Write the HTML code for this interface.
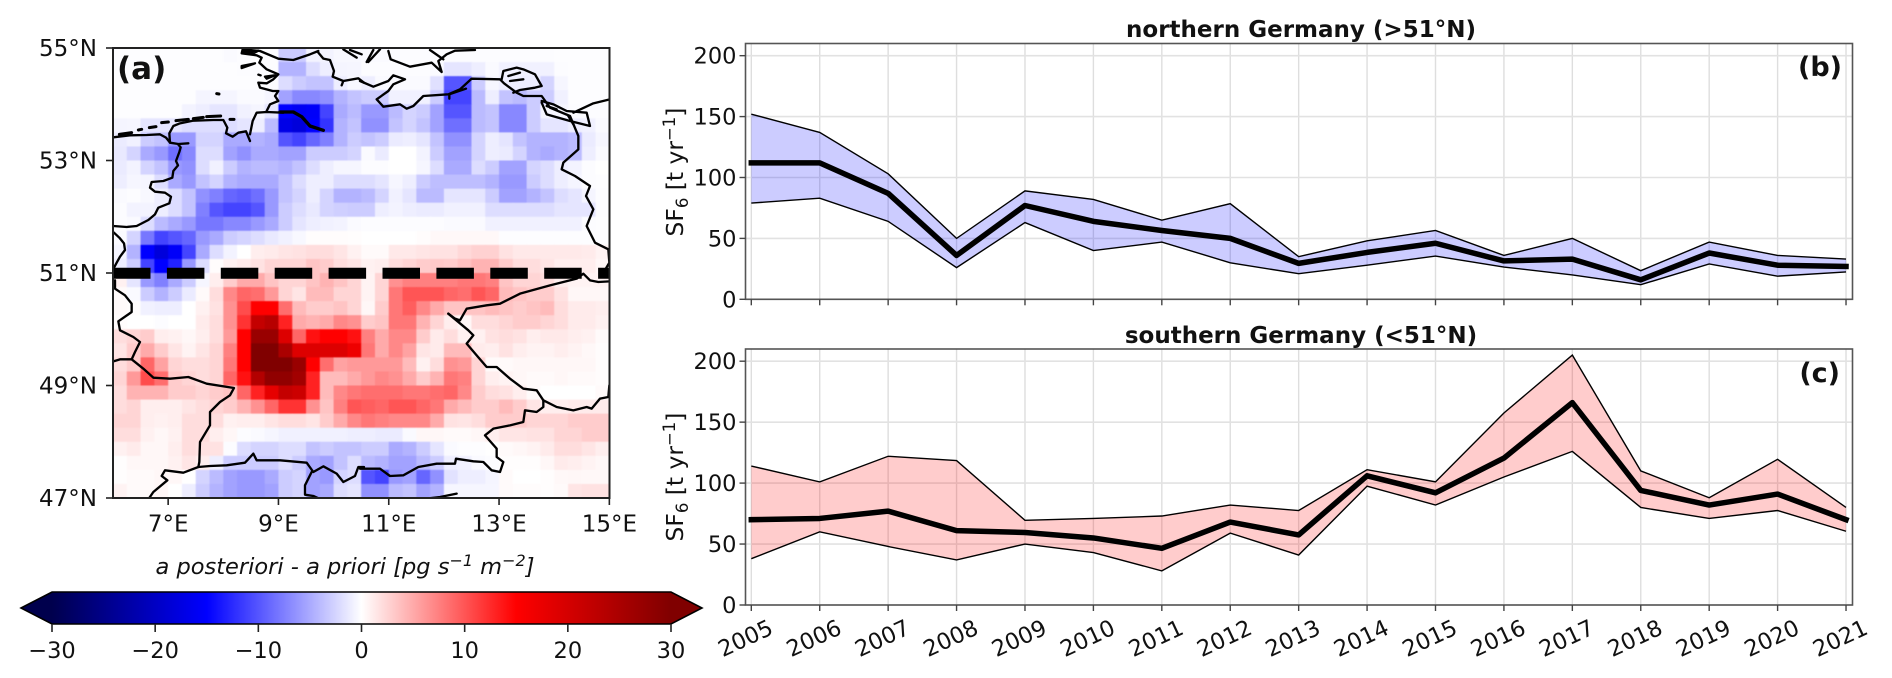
<!DOCTYPE html>
<html lang="en">
<head>
<meta charset="utf-8">
<title>SF6 emission changes over Germany</title>
<style>
html,body{margin:0;padding:0;background:#fff;}
svg{display:block;font-family:"DejaVu Sans","Liberation Sans",sans-serif;}
text{fill:#111;}
</style>
</head>
<body>
<svg id="figure" xmlns="http://www.w3.org/2000/svg" width="1892" height="678" viewBox="0 0 1892 678">
  <defs>
    <clipPath id="map-clip"><rect x="113" y="48" width="496.5" height="450"/></clipPath>
    <linearGradient id="seismic-gradient" x1="0" x2="1" y1="0" y2="0">
      <stop offset="0" stop-color="#00004d"/>
      <stop offset="0.25" stop-color="#0000ff"/>
      <stop offset="0.5" stop-color="#ffffff"/>
      <stop offset="0.75" stop-color="#ff0000"/>
      <stop offset="1" stop-color="#800000"/>
    </linearGradient>
  </defs>

  <g id="map-panel">
    <g clip-path="url(#map-clip)">
      <g id="heatmap" style="filter:blur(0.6px)"></g>
      <g fill="none" stroke="#000" stroke-width="7" stroke-linejoin="round" stroke-linecap="round">
        <g transform="translate(110,46) scale(0.33333)">
          <path d="M10,274 L60,268 L110,267 L150,265 L168,275 L180,290 L205,294 L235,292"/>
          <path d="M205,296 L212,304 L208,318 L198,345 L204,358 L190,375 L187,395 L160,405 L125,408 L120,425 L135,437 L165,440 L183,452 L178,472 L145,485 L135,505 L115,522 L80,540 L50,543 L10,540 M12,560 L28,575 L42,592 L45,612 L30,632 L20,650 L12,665"/>
          <path d="M180,290 L178,262 L190,240 L210,232 L250,224 L310,222 L340,222 L352,245 L348,262 L368,272 L385,260 L408,256 L420,285 M420,265 L428,225 L440,200 L470,198 L520,200"/>
          <path stroke-width="10" d="M510,198 L550,198 L575,212 L600,240 L640,253"/>
          <path stroke-width="9" d="M28,265 L65,260 M85,252 L95,250 M118,245 L138,242 M155,230 L175,228 M198,224 L235,220 M250,218 L280,214 M290,212 L332,210 M360,220 L372,220 M320,143 L327,144"/>
          <path d="M470,195 L480,175 L505,165 L495,150 L505,135 L488,135 L450,125 L445,110 L470,112 L490,100 L505,85 L470,70 L448,50 L455,35 L440,28 L395,22 L398,10 L450,15 L505,38 L550,42 L600,25 L625,15"/>
          <path d="M395,60 L435,52 L395,66 Z M445,86 L452,88 M465,92 L495,88 L470,98 Z M400,16 L445,14 L430,22 Z"/>
          <path d="M625,20 L640,38 L660,42 L672,75 L668,92 L700,105 L695,118 M700,105 L745,97 L762,110 M700,10 L740,35 M720,12 L755,25"/>
        </g>
        <g transform="translate(360,46) scale(0.33333)">
          <path d="M0,105 L40,122 L85,105 L100,88 L135,100 L100,115 L85,135 L50,160 L70,182 L120,175 L140,188 L160,180 L190,150 L265,145 L300,130 L335,98 L420,100 L432,112 L470,140 L490,150 L545,150 L570,185 L630,210 L655,270 L655,310 L610,350 L605,370 L645,390 L690,420 L678,450 L700,490 L680,540 L705,590 L745,610 L748,650 L735,672"/>
          <path d="M425,100 L430,75 L470,65 L490,70 L525,85 L545,120 L525,125 L480,132 L460,140 M445,90 L480,80 M450,105 L490,100"/>
          <path d="M545,165 L580,175 L620,195 L680,200 L690,240 L630,225 L560,205 L545,170 M640,200 L700,172 L750,160 M625,210 L640,235 M560,180 L590,190"/>
          <path d="M85,15 L92,40 L150,62 L215,50 L245,78 L235,45 L260,25 L285,14 L345,12 M20,48 L40,12 M25,48 L60,10 M210,12 L250,40 M268,158 L268,145 L318,128"/>
        </g>
        <g transform="translate(110,272) scale(0.33333)">
          <path d="M15,25 L15,50 L45,70 L65,95 L65,120 L25,148 L30,175 L70,195 L90,210 L75,240 L65,262 L30,262 L10,268"/>
          <path d="M65,262 L100,290 L130,317 L180,320 L235,315 L290,335 L372,348 L360,370 L330,390 L300,420 L300,460 L270,510 L268,570 L265,585 L300,582 L350,580 L405,572 L430,545 L440,565 L510,565 L590,572 L610,600 L640,583 L680,605 L700,630 L735,612 L745,585 L762,585"/>
          <path d="M265,585 L220,602 L165,595 L155,612 L172,625 L130,660 L115,682"/>
          <path d="M605,600 L585,640 L585,668 L610,672 L632,682"/>
        </g>
        <g transform="translate(360,272) scale(0.33333)">
          <path d="M0,590 L60,590 L90,612 L130,610 L175,585 L230,575 L285,575 L288,560 L340,568 L370,570 L395,595 L420,600 L430,570 L410,555 L410,530 L375,490 L400,470 L450,460 L490,450 L495,415 L530,420 L550,405 L550,385"/>
          <path d="M265,125 L285,140 L300,145 L320,110 L380,100 L420,95 L480,65 L570,40 L650,20 L670,5 L690,25 L715,30 L750,28"/>
          <path d="M265,125 L325,175 L340,190 L320,215 L350,250 L380,285 L410,285 L450,320 L490,350 L530,355 L550,385 L590,405 L640,415 L680,405 L695,410 L720,380 L745,375 L748,340"/>
          <path d="M180,682 L240,675 L290,665"/>
        </g>
      </g>
      <line x1="113" x2="610" y1="273.3" y2="273.3" stroke="#000" stroke-width="11" stroke-dasharray="37.5 16.4"/>
    </g>
    <rect x="113" y="48" width="496.5" height="450" fill="none" stroke="#222" stroke-width="2"/>
    <g id="map-ticks"></g>
    <text x="117" y="79" font-size="31" font-weight="bold">(a)</text>
  </g>

  <g id="colorbar">
    <text x="345" y="574" text-anchor="middle" font-size="22.5" font-style="italic">a posteriori - a priori [pg s<tspan dy="-8" font-size="16">−1</tspan><tspan dy="8"> m</tspan><tspan dy="-8" font-size="16">−2</tspan><tspan dy="8">]</tspan></text>
    <polygon points="21,608 52,592 52,624" fill="#00004d"/>
    <polygon points="702,608 671,592 671,624" fill="#800000"/>
    <rect x="52" y="592" width="619" height="32" fill="url(#seismic-gradient)"/>
    <polygon points="21,608 52,592 671,592 702,608 671,624 52,624" fill="none" stroke="#000" stroke-width="1.6"/>
    <g id="colorbar-ticks"></g>
  </g>

  <g id="panel-b">
    <text x="1301" y="37" text-anchor="middle" font-size="23" font-weight="bold">northern Germany (&gt;51°N)</text>
    <text transform="translate(683,172) rotate(-90)" text-anchor="middle" font-size="23.4">SF<tspan dy="5" font-size="16.5">6</tspan><tspan dy="-5"> [t yr</tspan><tspan dy="-8" font-size="16.5">−1</tspan><tspan dy="8">]</tspan></text>
    <text x="1842" y="76" text-anchor="end" font-size="27" font-weight="bold">(b)</text>
  </g>

  <g id="panel-c">
    <text x="1301" y="343" text-anchor="middle" font-size="23" font-weight="bold">southern Germany (&lt;51°N)</text>
    <text transform="translate(683,477) rotate(-90)" text-anchor="middle" font-size="23.4">SF<tspan dy="5" font-size="16.5">6</tspan><tspan dy="-5"> [t yr</tspan><tspan dy="-8" font-size="16.5">−1</tspan><tspan dy="8">]</tspan></text>
    <text x="1840" y="382" text-anchor="end" font-size="27" font-weight="bold">(c)</text>
  </g>
</svg>

<script>
// ---- time-series data ----
const years = [2005,2006,2007,2008,2009,2010,2011,2012,2013,2014,2015,2016,2017,2018,2019,2020,2021];
const northMean  = [112,112,87,36,77,64,56.5,50,29.5,38.5,46,31.5,33,16,38,28,27];
const northUpper = [152,137,103,50,89,82,65,78.5,35,48,56.5,36,50,23.5,47,36,33];
const northLower = [79,83,64,26,63,40,47,30,21,28,35.5,26.5,20,12,29,19,22.5];
const southMean  = [70,71,77,61,59.5,55,46.5,68,57.5,106,92,120.5,166,94,82,91,70];
const southUpper = [114,101,122,118.5,69.5,71,73,82,77.5,111,101,157.5,205,110,88,119.5,80];
const southLower = [38,60,48,37,50,43,28,59,41,97.5,82,105,126,80,71,77.5,60.5];
const yTickValues = [0,50,100,150,200];

// ---- map data ----
const mapLonTicks = [7,9,11,13,15];
const mapLatTicks = [47,49,51,53,55];
const colorbarTicks = [-30,-20,-10,0,10,20,30];
// difference in pg s-1 m-2; rows run north (55N) to south (47N), columns west (6E) to east (15E), 0.25 deg cells
const heatmapValues = [
[-.1,-.1,-.1,-.1,-.1,-.1,-.1,-.1,-.3,-.2,-.1,-.2,-3,-3,-.7,-.7,-.4,-.4,-.3,-.3,-.2,-.2,-.2,-.2,-.2,-.2,-.2,-.2,-.2,-.2,-.2,-.2,-.1,-.1,-.1,-.1],
[-.1,-.1,-.1,-.1,-.1,-.1,-.1,-.1,-.1,-.2,-.2,-.2,-4.5,-4.5,-2,-1,-.6,-.5,-.2,-.2,-.2,-.2,-.2,-.3,-1.5,-1.5,-1,-.3,-.8,-.8,-.8,-.8,-.2,-.1,-.1,-.1],
[-.1,-.1,-.1,-.1,-.1,-.1,-.1,-.1,-.1,-.1,-.1,-.2,-2,-3,-3.5,-3.5,-1,-.4,-1,-.3,-.3,-.3,-.3,-1.8,-10,-10,-3,-.5,-1,-1,-1,-2.5,-.5,-.1,-.1,-.1],
[-.1,-.1,-.1,-.1,-.1,-.1,-.6,-.6,-.6,-.3,-.3,-.6,-5.5,-7,-7,-6.5,-4.5,-3.5,-3,-3,-.8,-.8,-.8,-3,-11,-11,-4,-1,-3.5,-4,-3,-3,-.8,-.1,-.1,-.1],
[-.1,-.1,-.1,-.1,-.1,-.7,-1,-1.5,-1.5,-.8,-.6,-1.5,-15,-16,-15.5,-11,-5,-4,-6,-6,-4,-2.5,-3,-5.5,-10,-10,-4,-3.5,-7,-7,-3,-.5,-.5,-.2,-.2,-.2],
[-.6,-.5,-1.5,-1.5,-1.5,-2,-2,-2,-2,-1.5,-1,-4,-17,-18,-15,-12,-4.5,-3.5,-6.5,-6.5,-3.5,-2.5,-3.5,-5.5,-8.5,-8.5,-4,-3.5,-7,-7,-3,-1.5,-1.5,-1,-.8,-.3],
[-1.2,-.8,-3,-3.5,-6,-6,-2.5,-2.5,-5,-5,-4.5,-5,-10,-11,-9,-7.5,-4.5,-3,-3.5,-3,-1.2,-1,-1.5,-3.5,-6.5,-6.5,-2.5,-1,-1.5,-3.5,-4.5,-4.5,-4.5,-4,-1.2,-.5],
[-1.3,-2.5,-5,-6,-8.5,-7,-2,-2,-5.5,-6.5,-5,-5,-5.5,-5.5,-3,-3,-3,-2.5,-.3,-1.2,0,0,-.7,-3,-5.5,-5.5,-2.5,-1,-1.2,-2.5,-4.5,-5,-4.5,-4,-1,-.3],
[-1.2,-.7,-2.5,-3.5,-6,-6.5,-2,-.8,-3,-4.5,-4,-4,-4.5,-3.5,-2,-1,-.5,-.5,-.2,-.2,0,0,-.5,-2,-5,-5,-2,-3,-5.5,-5.5,-2.5,-2,-1,-.7,-.2,0],
[-1,-.5,-.6,-2,-5,-6,-3.5,-2.5,-4.5,-5,-5,-5,-3.5,-2,-1,-1,-2,-2,-2,-1.5,-.5,-1,-3,-3.8,-3.8,-3.8,-3.8,-4.5,-6,-6,-3,-2,-1,-.6,-.2,-.1],
[-.3,-.2,-.4,-1,-2,-3.5,-6.5,-7.5,-9,-9.5,-8.5,-6,-3.5,-2.5,-1,-2.5,-4.5,-4.5,-4,-2.5,-.8,-1.5,-4,-4,-1.5,-1.5,-1.5,-3,-5.5,-5.5,-4.5,-3.5,-2,-1.5,-.6,-.2],
[-.2,-.7,-.7,-1,-2,-3.5,-7.5,-10,-11,-11,-10,-6,-3,-2,-1.3,-2.5,-2.8,-3,-3,-1,-.7,-1,-1.2,-1.2,-.8,-.8,-.8,-2,-2,-2,-2,-2,-1.5,-1.5,-1.5,-.2],
[-.2,-.3,-2,-4,-5,-6,-8,-8,-7,-7,-6,-5,-3,-1.5,-1,-.8,-.7,-.3,-.2,-.2,-.2,-.2,-.2,-.2,-.3,-.3,-.3,-.8,-.8,-.8,-.8,-.8,-.8,-.8,-.2,-.1],
[-.3,-2.5,-8,-11,-10,-9,-6,-5,-3,-2.5,-2,-1.3,-.8,-.4,.1,.2,.2,.1,0,0,0,0,.2,.4,.4,.4,.4,.4,-.1,-.1,-.1,-.1,-.1,-.1,-.1,-.1],
[-.6,-4.5,-15,-18,-15.5,-11,-5,-2,-.7,0,1,1.2,1.5,1.7,2,2,1.5,.8,.3,.3,1.3,1.3,1.5,1.7,1.7,2.3,2.7,2.7,1.7,1.3,1.3,1.3,1.3,1.3,1.2,.7],
[-1,-3,-11,-15,-13,-6,-2,.2,.8,1.2,1.7,2.5,2.5,2.5,3.5,3,2,1.5,.8,1,2,2.5,3,3.2,3,3.7,4.5,4.5,3,2,2,1.5,1,1,1,.5],
[.8,-1.5,-6,-7.5,-5,-3,-.5,1,3,5,5,3.5,2.5,2.5,3.5,4.5,3.5,2.5,.7,2.5,6.5,7.5,7.5,7.5,7.5,8,8,7.5,3.5,2.5,2.5,2,1,.7,.7,.7],
[.3,-.3,-3,-4.5,-3,-1.2,.3,2,7,9,8.5,6,2.5,1.5,4,4,2.5,2.5,.7,2.5,8,10,10,10,9,8.5,10,9,4,3.5,3,3,1.7,.5,.5,.5],
[.3,.1,-.8,-1,-1,0,.8,1.7,6.5,10.5,15,15,8.5,4,3,3,3.5,2.5,.5,3,8,9.5,7,5,3.5,3.5,3.5,4,3.5,3,3.5,4,2,1.2,1.2,1],
[.2,0,0,-.2,0,0,1.2,2,6.5,12,22,23.5,13,5,4.5,5,7,6.5,3,3.5,8,8,4.5,2.5,1,.5,2,2,2.5,3,3,2.5,2,1.2,1.2,.8],
[2,2.5,3,1,.8,.5,1,2,6,15,27,27,19,9,14,15,15,14,7.5,5,7,7,3,1.2,2,.8,.8,1.7,2,1.7,1,1.3,1.3,1,.8,.3],
[1.5,3,5,3,1.5,.7,1.5,2.5,7.5,15,30,30,25,19,19,19,19,17,8,5,7,5.5,1.5,1.2,4,4,1.2,1,1.7,1,.7,.7,1,.7,.4,.2],
[2,3,9,5.5,2.5,2,2,2.5,8,15,30,30,30,27,15,8.5,5.5,6,6,6,6,4,.8,2,6.5,6,2.5,.3,.3,.5,.5,.5,.5,.5,.5,.2],
[2.5,6,10.5,8.5,3,2.5,2,2.5,9,14,24,28,28,26,13,4,4,5,6,7,6.5,5,3,4.5,8,7.5,2.5,1,.7,.5,.3,.3,.5,.3,.3,.2],
[2,4.5,4.5,4.5,3,3,2.5,3,3.5,9,13,18,22,21,13,4,7,8,8.5,8.5,8.5,8,8,8.5,9,7,3,2,1.7,1,.3,0,0,0,0,.3],
[2,2.5,1,1,1,1.5,2,2.5,3,4.5,6.5,9,12,12,6.5,3.5,7.5,10,9.5,9,10,10,9,8,5,4,3,3,4,3,1.5,1,1,1.2,1.2,1.2],
[2.5,2.5,1,.8,1,2,2,2,.8,1,1,1.5,2,2,1.5,3,5,7,8,7.5,7,7,7,5,1.7,1.5,2,3,3,3,2.5,2.5,2.5,3,3,3],
[2,2,.8,.5,.8,2,2,1,.5,-.2,-.3,-.5,-.8,-.8,-.8,-.8,-.8,-1,-1,-1.2,-1.2,-.3,.5,.5,.3,.3,.5,1,1.5,1.5,1.7,1.7,2.5,2.5,3,3],
[.8,1.2,.5,.5,1,2,1.7,1.7,-.2,-2,-2.5,-2.5,-2,-2,-3.5,-3,-3.5,-3.5,-3,-3,-5,-4.5,-3,-1.5,-.3,-.1,-.1,0,.3,.5,.7,1.2,2,2,1.5,1],
[.1,.5,.5,.5,.8,1.5,1,-1,-3,-3,-3,-3,-2,-3,-5,-5.5,-3.5,-2,-4,-4.5,-5.5,-5.5,-4,-3,-1,-.8,-.3,-.2,.1,.1,.1,.5,1.2,1,.7,.5],
[.1,.3,.3,.5,.5,0,-2.5,-4,-5.5,-6,-6,-5,-3,-2.5,-5.5,-6,-2.5,-2,-10,-11,-6,-5.5,-9,-6.5,-1.7,-1,-1,-.6,.3,0,0,.1,.4,.5,.4,.4],
[.7,.3,.3,.5,0,-1,-3,-4.5,-5.5,-6,-6,-5.5,-3,-2.5,-5.5,-5,-2,-1.5,-6.5,-6.5,-4,-3.5,-5.5,-4.5,-.5,-.5,-.5,-.5,.3,.2,.2,.1,.3,1.5,1.7,1.7]
];

const SVG_NS = 'http://www.w3.org/2000/svg';
function mk(tag, parent) {
  const el = document.createElementNS(SVG_NS, tag);
  parent.appendChild(el);
  return el;
}

// ---- map axes ----
const lonToX = lon => 113 + (lon - 6) * 55.15;
const latToY = lat => 498 - (lat - 47) * 56.25;
const CELL_DEG = 0.25;

function seismic(v) {
  const t = Math.max(0, Math.min(1, (v + 30) / 60));
  const stops = [[0,0,77],[0,0,255],[255,255,255],[255,0,0],[128,0,0]];
  const p = t * 4;
  const i = Math.min(3, Math.floor(p));
  const f = p - i;
  const c = [0,1,2].map(k => Math.round(stops[i][k] + (stops[i+1][k] - stops[i][k]) * f));
  return 'rgb(' + c.join(',') + ')';
}

const heatmap = document.getElementById('heatmap');
heatmapValues.forEach((row, r) => {
  row.forEach((v, c) => {
    const lon = 6 + c * CELL_DEG;
    const lat = 55 - r * CELL_DEG;
    const cell = mk('rect', heatmap);
    
    
    cell.setAttribute('x', lonToX(lon));
    cell.setAttribute('y', latToY(lat));
    cell.setAttribute('width', lonToX(lon + CELL_DEG) - lonToX(lon) + 0.5);
    cell.setAttribute('height', latToY(lat - CELL_DEG) - latToY(lat) + 0.5);
    cell.setAttribute('fill', seismic(v));
  });
});

const mapTicks = document.getElementById('map-ticks');
mapLatTicks.forEach(lat => {
  const y = latToY(lat);
  const tick = mk('line', mapTicks);
  
  
  tick.setAttribute('x1', 106); tick.setAttribute('x2', 113);
  tick.setAttribute('y1', y); tick.setAttribute('y2', y);
  tick.setAttribute('stroke', '#222'); tick.setAttribute('stroke-width', 1.6);
  const label = mk('text', mapTicks);
  
  
  label.setAttribute('x', 97); label.setAttribute('y', y + 8);
  label.setAttribute('text-anchor', 'end'); label.setAttribute('font-size', 23);
  label.textContent = lat + '°N';
});
mapLonTicks.forEach(lon => {
  const x = lonToX(lon);
  const tick = mk('line', mapTicks);
  
  
  tick.setAttribute('x1', x); tick.setAttribute('x2', x);
  tick.setAttribute('y1', 498); tick.setAttribute('y2', 505);
  tick.setAttribute('stroke', '#222'); tick.setAttribute('stroke-width', 1.6);
  const label = mk('text', mapTicks);
  
  
  label.setAttribute('x', x); label.setAttribute('y', 531.5);
  label.setAttribute('text-anchor', 'middle'); label.setAttribute('font-size', 23);
  label.textContent = lon + '°E';
});

// ---- colorbar ticks ----
const cbToX = v => 52 + (v + 30) / 60 * 619;
const cbGroup = document.getElementById('colorbar-ticks');
colorbarTicks.forEach(v => {
  const x = cbToX(v);
  const tick = mk('line', cbGroup);
  
  
  tick.setAttribute('x1', x); tick.setAttribute('x2', x);
  tick.setAttribute('y1', 624); tick.setAttribute('y2', 632);
  tick.setAttribute('stroke', '#222'); tick.setAttribute('stroke-width', 1.6);
  const label = mk('text', cbGroup);
  
  
  label.setAttribute('x', x); label.setAttribute('y', 658);
  label.setAttribute('text-anchor', 'middle'); label.setAttribute('font-size', 22.5);
  label.textContent = v < 0 ? '−' + Math.abs(v) : String(v);
});

// ---- time-series panels ----
const yearToX = yr => 751.3 + (yr - 2005) * 68.42;
const PANEL_LEFT = 745.5, PANEL_RIGHT = 1852.5;

function drawPanel(groupId, prefix, top, bottom, upper, lower, mean, fill, showYearLabels) {
  const group = document.getElementById(groupId);
  const valToY = v => bottom - v * (bottom - top) / 210;
  const layer = document.createElementNS(SVG_NS, 'g');
  group.insertBefore(layer, group.firstChild);

  years.forEach(yr => {
    const x = yearToX(yr);
    const g = mk('line', layer);
    
    
    g.setAttribute('x1', x); g.setAttribute('x2', x);
    g.setAttribute('y1', top); g.setAttribute('y2', bottom);
    g.setAttribute('stroke', '#dedede'); g.setAttribute('stroke-width', 1.4);
  });
  yTickValues.forEach(v => {
    const y = valToY(v);
    const g = mk('line', layer);
    
    
    g.setAttribute('x1', PANEL_LEFT); g.setAttribute('x2', PANEL_RIGHT);
    g.setAttribute('y1', y); g.setAttribute('y2', y);
    g.setAttribute('stroke', '#e2e2e2'); g.setAttribute('stroke-width', 1.6);
  });

  const up = years.map((yr, i) => yearToX(yr) + ',' + valToY(upper[i]));
  const lo = years.map((yr, i) => yearToX(yr) + ',' + valToY(lower[i]));
  const me = years.map((yr, i) => yearToX(yr) + ',' + valToY(mean[i]));

  const band = mk('polygon', layer);
  
  
  band.setAttribute('points', up.concat(lo.slice().reverse()).join(' '));
  band.setAttribute('fill', fill);
  band.setAttribute('fill-opacity', 0.2);

  const upLine = mk('polyline', layer);
  
  
  upLine.setAttribute('points', up.join(' '));
  upLine.setAttribute('fill', 'none'); upLine.setAttribute('stroke', '#000'); upLine.setAttribute('stroke-width', 1.4);

  const loLine = mk('polyline', layer);
  
  
  loLine.setAttribute('points', lo.join(' '));
  loLine.setAttribute('fill', 'none'); loLine.setAttribute('stroke', '#000'); loLine.setAttribute('stroke-width', 1.4);

  const meanLine = mk('polyline', layer);
  
  
  meanLine.setAttribute('points', me.join(' '));
  meanLine.setAttribute('fill', 'none'); meanLine.setAttribute('stroke', '#000');
  meanLine.setAttribute('stroke-width', 5.5); meanLine.setAttribute('stroke-linecap', 'square');
  meanLine.setAttribute('stroke-linejoin', 'round');

  const frame = mk('rect', layer);
  
  
  frame.setAttribute('x', PANEL_LEFT); frame.setAttribute('y', top);
  frame.setAttribute('width', PANEL_RIGHT - PANEL_LEFT); frame.setAttribute('height', bottom - top);
  frame.setAttribute('fill', 'none'); frame.setAttribute('stroke', '#555'); frame.setAttribute('stroke-width', 1.6);

  yTickValues.forEach(v => {
    const y = valToY(v);
    const t = mk('line', layer);
    
    
    t.setAttribute('x1', PANEL_LEFT - 6); t.setAttribute('x2', PANEL_LEFT);
    t.setAttribute('y1', y); t.setAttribute('y2', y);
    t.setAttribute('stroke', '#444'); t.setAttribute('stroke-width', 1.4);
    const l = mk('text', layer);
    
    
    l.setAttribute('x', 736.5); l.setAttribute('y', y + 8);
    l.setAttribute('text-anchor', 'end'); l.setAttribute('font-size', 22.5);
    l.textContent = v;
  });

  years.forEach(yr => {
    const x = yearToX(yr);
    const t = mk('line', layer);
    
    
    t.setAttribute('x1', x); t.setAttribute('x2', x);
    t.setAttribute('y1', bottom); t.setAttribute('y2', bottom + 6);
    t.setAttribute('stroke', '#444'); t.setAttribute('stroke-width', 1.4);
    if (showYearLabels) {
      const l = mk('text', layer);
      
      
      l.setAttribute('transform', 'translate(' + (x - 6) + ',638) rotate(-25)');
      l.setAttribute('y', 8);
      l.setAttribute('text-anchor', 'middle'); l.setAttribute('font-size', 22.5);
      l.textContent = yr;
    }
  });
}

drawPanel('panel-b', 'north-panel', 43.5, 299.3, northUpper, northLower, northMean, '#0000ff', false);
drawPanel('panel-c', 'south-panel', 349, 605, southUpper, southLower, southMean, '#ff0000', true);
</script>
</body>
</html>
